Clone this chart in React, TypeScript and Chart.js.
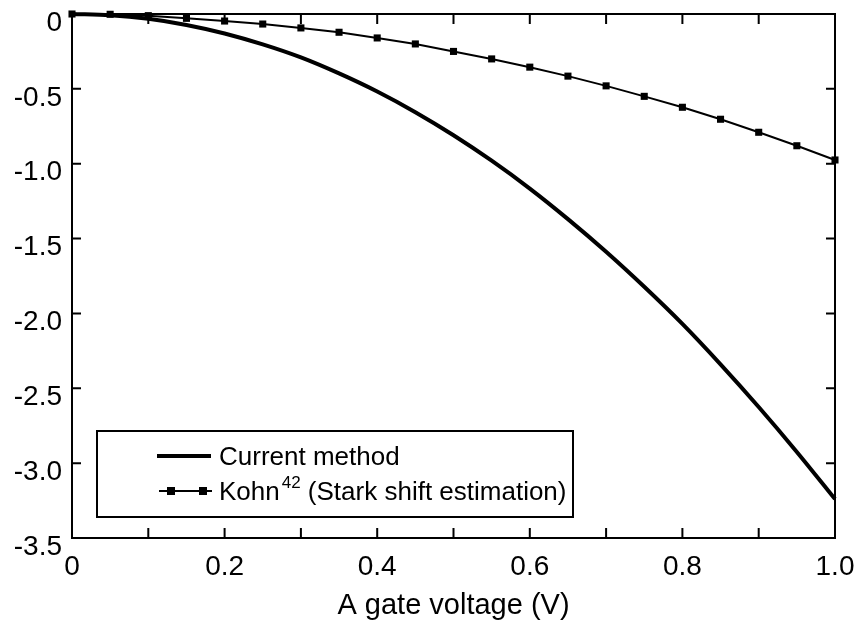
import React, { useEffect, useRef } from "react";
import { Chart, registerables } from "chart.js";

Chart.register(...registerables);

const X_VALUES = [0, 0.05, 0.1, 0.15, 0.2, 0.25, 0.3, 0.35, 0.4, 0.45, 0.5, 0.55, 0.6, 0.65, 0.7, 0.75, 0.8, 0.85, 0.9, 0.95, 1.0];
const CURRENT_METHOD = [0, -0.008, -0.032, -0.073, -0.13, -0.203, -0.29, -0.397, -0.518, -0.656, -0.81, -0.98, -1.166, -1.37, -1.588, -1.822, -2.07, -2.34, -2.625, -2.925, -3.24];
const KOHN = [0, -0.002, -0.011, -0.029, -0.047, -0.067, -0.093, -0.122, -0.16, -0.2, -0.25, -0.3, -0.355, -0.415, -0.48, -0.55, -0.623, -0.703, -0.79, -0.88, -0.975];

const X_TICK_MARKS = [0, 0.1, 0.2, 0.3, 0.4, 0.5, 0.6, 0.7, 0.8, 0.9, 1.0];
const X_TICK_LABELS = [0, 0.2, 0.4, 0.6, 0.8, 1.0];
const Y_TICKS = [0, -0.5, -1.0, -1.5, -2.0, -2.5, -3.0, -3.5];

const X_TITLE = "A gate voltage (V)";
const LEGEND_1 = "Current method";
const LEGEND_2_MAIN = "Kohn";
const LEGEND_2_SUP = "42";
const LEGEND_2_REST = " (Stark shift estimation)";

const FONT = '"Liberation Sans", Arial, Helvetica, sans-serif';

const framePlugin = {
  id: "framePlugin",
  afterDatasetsDraw(chart: any) {
    const { ctx, chartArea, scales } = chart;
    const { left, right, top, bottom } = chartArea;
    ctx.save();
    ctx.strokeStyle = "#000";
    ctx.lineWidth = 2;
    ctx.strokeRect(left, top, right - left, bottom - top);
    const tl = 10;
    ctx.beginPath();
    X_TICK_MARKS.forEach((v) => {
      const px = scales.x.getPixelForValue(v);
      ctx.moveTo(px, bottom);
      ctx.lineTo(px, bottom - tl);
      ctx.moveTo(px, top);
      ctx.lineTo(px, top + tl);
    });
    Y_TICKS.forEach((v) => {
      const py = scales.y.getPixelForValue(v);
      ctx.moveTo(left, py);
      ctx.lineTo(left + 9, py);
      ctx.moveTo(right, py);
      ctx.lineTo(right - 9, py);
    });
    ctx.stroke();

    // legend
    const bx = 97, by = 431, bw = 476, bh = 86;
    ctx.fillStyle = "#fff";
    ctx.fillRect(bx, by, bw, bh);
    ctx.lineWidth = 2;
    ctx.strokeRect(bx, by, bw, bh);

    ctx.lineWidth = 4;
    ctx.beginPath();
    ctx.moveTo(157, 456);
    ctx.lineTo(211, 456);
    ctx.stroke();

    ctx.lineWidth = 2;
    ctx.beginPath();
    ctx.moveTo(159, 491);
    ctx.lineTo(212, 491);
    ctx.stroke();
    ctx.fillStyle = "#000";
    ctx.fillRect(171 - 4, 491 - 4, 8, 8);
    ctx.fillRect(203 - 4, 491 - 4, 8, 8);

    ctx.fillStyle = "#000";
    ctx.textBaseline = "alphabetic";
    ctx.textAlign = "left";
    ctx.font = `26px ${FONT}`;
    ctx.fillText(LEGEND_1, 219, 465);
    ctx.fillText(LEGEND_2_MAIN, 219, 500);
    let x = 219 + ctx.measureText(LEGEND_2_MAIN).width + 2;
    ctx.font = `17px ${FONT}`;
    ctx.fillText(LEGEND_2_SUP, x, 488);
    x += ctx.measureText(LEGEND_2_SUP).width;
    ctx.font = `26px ${FONT}`;
    ctx.fillText(LEGEND_2_REST, x, 500);
    ctx.restore();
  },
};

function zeroPad(scale: any) {
  scale.paddingTop = 0;
  scale.paddingBottom = 0;
  scale.paddingLeft = 0;
  scale.paddingRight = 0;
}

const fmt = (v: number) => (Math.abs(v) < 1e-9 ? "0" : Number(v).toFixed(1));

export default function App() {
  const ref = useRef<HTMLCanvasElement | null>(null);
  useEffect(() => {
    if (!ref.current) return;
    const chart = new Chart(ref.current, {
      type: "line",
      data: {
        datasets: [
          {
            label: LEGEND_1,
            data: X_VALUES.map((x, i) => ({ x, y: CURRENT_METHOD[i] })),
            borderColor: "#000",
            backgroundColor: "#000",
            borderWidth: 4,
            pointRadius: 0,
            cubicInterpolationMode: "monotone",
            clip: 6,
          } as any,
          {
            label: "Kohn42 (Stark shift estimation)",
            data: X_VALUES.map((x, i) => ({ x, y: KOHN[i] })),
            borderColor: "#000",
            backgroundColor: "#000",
            borderWidth: 2,
            pointStyle: "rect",
            pointRadius: 5,
            pointBorderWidth: 0,
            tension: 0,
            clip: 6,
          } as any,
        ],
      },
      options: {
        animation: false,
        responsive: false,
        devicePixelRatio: 1,
        layout: { padding: { left: 0, top: 14, right: 25, bottom: 0 } },
        plugins: { legend: { display: false }, tooltip: { enabled: false } },
        scales: {
          x: {
            type: "linear",
            min: 0,
            max: 1,
            grid: { display: false, drawTicks: false },
            border: { display: false },
            afterBuildTicks: (s: any) => {
              s.ticks = X_TICK_LABELS.map((v) => ({ value: v }));
            },
            afterFit: (s: any) => {
              s.height = 86;
              zeroPad(s);
            },
            ticks: {
              color: "#000",
              font: { size: 28, family: FONT },
              padding: 12,
              maxRotation: 0,
              callback: (v: any) => fmt(Number(v)),
            },
            title: {
              display: true,
              text: X_TITLE,
              color: "#000",
              font: { size: 29, family: FONT },
              padding: { top: 0, bottom: 1 },
            },
          },
          y: {
            type: "linear",
            min: -3.5,
            max: 0,
            grid: { display: false, drawTicks: false },
            border: { display: false },
            afterBuildTicks: (s: any) => {
              s.ticks = Y_TICKS.map((v) => ({ value: v }));
            },
            afterFit: (s: any) => {
              s.width = 72;
              zeroPad(s);
            },
            ticks: {
              color: "#000",
              font: { size: 28, family: FONT },
              padding: 10,
              labelOffset: 9,
              callback: (v: any) => fmt(Number(v)),
            },
          },
        },
      } as any,
      plugins: [framePlugin],
    });
    return () => chart.destroy();
  }, []);
  return (
    <div style={{ position: "fixed", left: 0, top: 0, width: 860, height: 624, background: "#fff" }}>
      <canvas ref={ref} width={860} height={624} style={{ width: 860, height: 624, display: "block" }} />
    </div>
  );
}
